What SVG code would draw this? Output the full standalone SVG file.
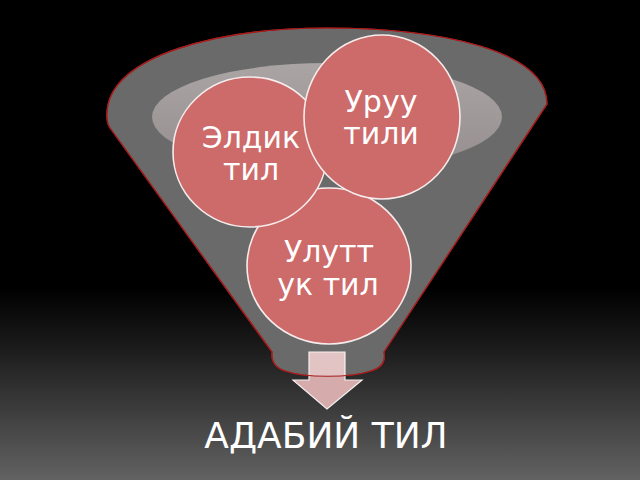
<svg xmlns="http://www.w3.org/2000/svg" width="640" height="480" viewBox="0 0 640 480">
  <defs>
    <linearGradient id="bg" x1="0" y1="0" x2="0" y2="480" gradientUnits="userSpaceOnUse">
      <stop offset="0" stop-color="#000"/>
      <stop offset="0.6" stop-color="#000"/>
      <stop offset="0.72" stop-color="#1a1a1a"/>
      <stop offset="1" stop-color="#626262"/>
    </linearGradient>
    <linearGradient id="inner" x1="0" y1="0" x2="0" y2="1">
      <stop offset="0" stop-color="#aaa4a4"/>
      <stop offset="1" stop-color="#968e8e"/>
    </linearGradient>
    <path id="funnelShape" d="M110,128 Q106,122 107,112 C110,55 220,28 326,28 C440,28 547,50 547,104 L384,352 C386,362 381,368 371,371 C350,378 305,378 285,371 C276,368 271,362 272,352 Z"/>
    <clipPath id="funnelClip"><use href="#funnelShape"/></clipPath>
    <style>
      .funnel { fill: #6a6a6a; stroke: #a81c1c; stroke-width: 1.2; }
      .outline { fill: none; stroke: #a81c1c; stroke-width: 1.2; }
      .circle { fill: #cd6a6a; stroke: #f6ecec; stroke-width: 1.6; }
      .lbl { font-family: "DejaVu Sans", "Liberation Sans", sans-serif; font-size: 30px; fill: #ffffff; text-anchor: middle; }
      .arrow { fill: #d6abab; stroke: #f4eeee; stroke-width: 1.2; }
      .title { font-family: "DejaVu Sans", "Liberation Sans", sans-serif; font-size: 36px; fill: #ffffff; text-anchor: middle; }
    </style>
  </defs>

  <rect x="0" y="0" width="640" height="480" fill="url(#bg)"/>

  <g id="funnel">
    <use href="#funnelShape" class="funnel"/>
    <ellipse cx="327" cy="117" rx="175" ry="54" fill="url(#inner)"/>
  </g>

  <g id="node-ulut">
    <ellipse class="circle" cx="329" cy="266" rx="82" ry="78"/>
    <text class="lbl" x="329" y="262">Улутт</text>
    <text class="lbl" x="328" y="295">ук тил</text>
  </g>

  <g id="node-eldik">
    <ellipse class="circle" cx="250" cy="152" rx="77" ry="75"/>
    <text class="lbl" x="251" y="148">Элдик</text>
    <text class="lbl" x="251" y="180">тил</text>
  </g>

  <g id="node-uruu">
    <ellipse class="circle" cx="382" cy="117" rx="78" ry="82"/>
    <text class="lbl" x="381" y="112">Уруу</text>
    <text class="lbl" x="381" y="144">тили</text>
  </g>

  <g id="connectors">
    <g id="arrow">
      <polygon class="arrow" points="309,352 345,352 345,380 362,380 327,409 293,380 309,380"/>
      <rect x="309" y="352" width="36" height="28" fill="#ffffff" fill-opacity="0.3" clip-path="url(#funnelClip)"/>
      <use href="#funnelShape" class="outline"/>
    </g>
  </g>

  <g id="node-result">
    <text class="title" x="326" y="448">АДАБИЙ ТИЛ</text>
  </g>
</svg>
